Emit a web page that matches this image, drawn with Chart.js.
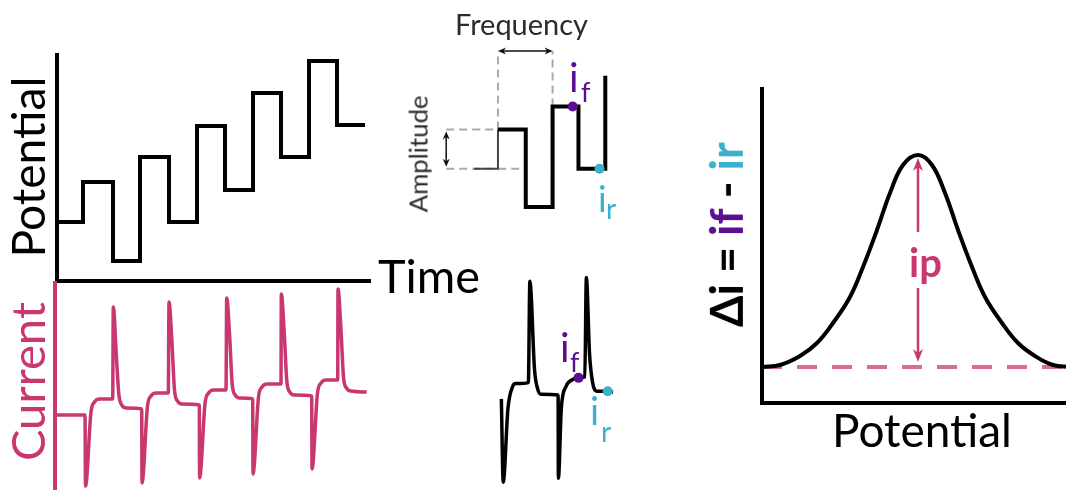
<!DOCTYPE html>
<html><head><meta charset="utf-8">
<script src="https://cdn.jsdelivr.net/npm/chart.js@4.4.1/dist/chart.umd.min.js"></script>
<style>
html,body{margin:0;padding:0;background:#fff;width:1066px;height:490px;overflow:hidden;position:relative;}
canvas{position:absolute;}
.lbl{position:absolute;white-space:nowrap;line-height:1;font-family:Lato,"Open Sans",sans-serif;transform-origin:50% 50%;}
</style></head><body>
<script>
// ================= DATA =================
// Left top: square-wave staircase potential vs time
const potTime  = [0, 26, 56, 83, 112, 140, 168, 196, 224, 252, 280, 308];
const potValue = [59, 99, 20, 124, 59, 155, 91, 188, 124, 220, 156, 156];

// Left bottom: current response vs time
const curTime  = [0,28,28.5,34,37.5,42.5,55.7, 56.3,59.3,61.8,64.8,69.3,84.7, 85,90.5,94,99,111.3,
                  112,115,117.5,120.5,125,142.3, 142.6,148.1,151.6,156.6,169, 169.7,172.7,175.2,178.2,182.7,195.7,
                  196,201.5,205,210,224, 224.3,227.3,229.8,232.8,237.3,254.7, 255,260.5,264,269,280.7,
                  281,284,286.5,289.5,294,309.7];
const curValue = [0,0,-71,3,13,16,16, 108,60,21,10,7,6, -68,9,19,22,22,
                  113,72,25,14,11,10, -63,12,22,25,25, 117,78,31,20,17,16,
                  -59,18,28,31,31, 121,81,34,23,20,19, -54,22,32,35,35,
                  126,85,38,27,24,23];

// Middle top: one square-wave period in detail
const waveTime  = [0, 25, 54, 82, 109, 137];
const waveValue = [0, 41, -40, 65, 0, 97];
const ifPoint   = [103, 65];      // forward current sample
const irPoint   = [131, 0];       // reverse current sample
const ampLevels = [41, 0];        // amplitude guide levels
const ampGuideStart = -29;        // where amplitude guides start (time)
const freqTimes = [25, 82];       // one period (frequency guides)
const freqLevel = 123;            // level of the frequency arrow

// Middle bottom: current detail
const detTime  = [0,2,7,12,15.3,28.7,30.3,35.3,38.7,42,60.3,60.6,63.7,68.7,75.3,82,88.7,90.3,93.7,97,102,113,118.7];
const detValue = [0,-87,-10,13,16,17,123,30,10,5,4,-83,-10,13,20,22,23,127,47,17,8,8,7];
const detIf = [82, 22];
const detIr = [113, 8];

// Right: differential current vs potential
const gPot   = [0,18,38,55,71,88,101,115,128,141,156,170,183,196,210,223,240,256,273,291,308];
const gDelta = [0,2,11,24,44,70,100,137,174,202,212,202,174,137,100,70,44,24,11,2,0];
const baseLevel = 0;
const ipPot = 156;
const ipRange = [5, 209];     // arrow from baseline to peak
const ipGap = [79, 135];      // gap in arrow for label

// ================= STYLE =================
const PINK = '#C8376F', PINK_L = '#DA6B9C', PURPLE = '#5B0E91', CYAN = '#3BB0CC', GRAY = '#9DAFB3', INK = '#2B2B2B';

const arrowPlugin = {
  id: 'arrows',
  afterDatasetsDraw(chart, args, opts) {
    const items = (opts && opts.items) || [];
    const ctx = chart.ctx, xs = chart.scales.x, ys = chart.scales.y;
    items.forEach(a => {
      const x1 = xs.getPixelForValue(a.x1), y1 = ys.getPixelForValue(a.y1);
      const x2 = xs.getPixelForValue(a.x2), y2 = ys.getPixelForValue(a.y2);
      const ang = Math.atan2(y2 - y1, x2 - x1);
      const L = a.hl || 8, W = a.hw || 3.5;
      ctx.save();
      ctx.strokeStyle = a.color; ctx.fillStyle = a.color; ctx.lineWidth = a.width || 1.5;
      const sx = a.start ? x1 + Math.cos(ang) * L * 0.6 : x1, sy = a.start ? y1 + Math.sin(ang) * L * 0.6 : y1;
      const ex = a.end ? x2 - Math.cos(ang) * L * 0.6 : x2, ey = a.end ? y2 - Math.sin(ang) * L * 0.6 : y2;
      ctx.beginPath(); ctx.moveTo(sx, sy); ctx.lineTo(ex, ey); ctx.stroke();
      const head = (x, y, an) => {
        ctx.beginPath();
        ctx.moveTo(x, y);
        ctx.lineTo(x - Math.cos(an) * L - Math.sin(an) * W, y - Math.sin(an) * L + Math.cos(an) * W);
        ctx.lineTo(x - Math.cos(an) * L * 0.7, y - Math.sin(an) * L * 0.7);
        ctx.lineTo(x - Math.cos(an) * L + Math.sin(an) * W, y - Math.sin(an) * L - Math.cos(an) * W);
        ctx.closePath(); ctx.fill();
      };
      if (a.end) head(x2, y2, ang);
      if (a.start) head(x1, y1, ang + Math.PI);
      ctx.restore();
    });
  }
};

function pts(xs, ys) { return xs.map((x, i) => ({ x, y: ys[i] })); }
function lineDS(data, color, width, extra) {
  return Object.assign({ data, borderColor: color, backgroundColor: color, borderWidth: width, pointRadius: 0,
    fill: false, clip: false, tension: 0, borderJoinStyle: 'round' }, extra || {});
}
function dotDS(p, color, r) {
  return { data: [{ x: p[0], y: p[1] }], showLine: false, pointRadius: r, pointBackgroundColor: color,
    pointBorderColor: color, pointBorderWidth: 0, clip: false };
}
function scale(min, max, pos, border) {
  return { type: 'linear', min, max, position: pos, display: !!border,
    grid: { display: false, drawTicks: false }, ticks: { display: false },
    border: border ? { display: true, color: border.color, width: border.width } : { display: false } };
}
function makeChart(left, top, w, h, pad, xs, ys, datasets, arrows) {
  const cv = document.createElement('canvas');
  cv.width = w; cv.height = h;
  cv.style.left = left + 'px'; cv.style.top = top + 'px';
  cv.style.width = w + 'px'; cv.style.height = h + 'px';
  document.body.appendChild(cv);
  return new Chart(cv, {
    type: 'line',
    data: { datasets },
    options: {
      responsive: false, animation: false, devicePixelRatio: 1, events: [],
      layout: { padding: pad },
      plugins: { legend: { display: false }, tooltip: { enabled: false }, arrows: { items: arrows || [] } },
      scales: { x: xs, y: ys }
    },
    plugins: [arrowPlugin]
  });
}

// ---- Left top: potential staircase ----
makeChart(47, 45, 333, 246, 10,
  scale(0, 313, 'bottom', { color: '#000', width: 4 }),
  scale(0, 226, 'left', { color: '#000', width: 4 }),
  [lineDS(pts(potTime, potValue), '#000', 4, { stepped: 'before', borderJoinStyle: 'miter' })]);

// ---- Left bottom: current ----
makeChart(45, 273, 335, 227, 10,
  scale(-2, 313, 'bottom', null),
  scale(-75, 132, 'left', { color: PINK, width: 4 }),
  [lineDS(pts(curTime, curValue), PINK, 3.5, { cubicInterpolationMode: 'monotone' })]);

// ---- Middle top: square-wave detail ----
makeChart(400, 0, 240, 235, 0,
  scale(-72, 168, 'bottom', null),
  scale(-64, 171, 'left', null),
  [
    dotDS(ifPoint, PURPLE, 5),
    dotDS(irPoint, CYAN, 5),
    lineDS(pts(waveTime, waveValue), '#000', 4, { stepped: 'before', borderJoinStyle: 'miter',
      segment: { borderWidth: c => c.p0DataIndex === 0 ? 2 : undefined, borderColor: c => c.p0DataIndex === 0 ? '#444' : undefined } }),
    lineDS(pts([ampGuideStart, freqTimes[0]], [ampLevels[0], ampLevels[0]]), GRAY, 2, { borderDash: [8, 5] }),
    lineDS(pts([ampGuideStart, waveTime[2] - 1], [ampLevels[1], ampLevels[1]]), GRAY, 2, { borderDash: [8, 5] }),
    lineDS(pts([freqTimes[0], freqTimes[0] + 0.001], [ampLevels[0], freqLevel]), GRAY, 2, { borderDash: [8, 5] }),
    lineDS(pts([freqTimes[1], freqTimes[1] + 0.001], [waveValue[3], freqLevel]), GRAY, 2, { borderDash: [8, 5] })
  ],
  [
    { x1: freqTimes[0], y1: freqLevel, x2: freqTimes[1], y2: freqLevel, color: '#111', width: 1.5, start: true, end: true, hl: 8, hw: 3.5 },
    { x1: ampGuideStart, y1: ampLevels[0] - 2, x2: ampGuideStart, y2: ampLevels[1] + 2, color: '#111', width: 1.5, start: true, end: true, hl: 8, hw: 3.5 }
  ]);

// ---- Middle bottom: current detail ----
makeChart(470, 260, 170, 230, 0,
  scale(-28, 142, 'bottom', null),
  scale(-90, 140, 'left', null),
  [
    dotDS(detIf, PURPLE, 5),
    dotDS(detIr, CYAN, 5),
    lineDS(pts(detTime, detValue), '#000', 3.5, { cubicInterpolationMode: 'monotone' })
  ]);

// ---- Right: differential current ----
makeChart(752, 79, 328, 334, 10,
  scale(0, 308, 'bottom', { color: '#000', width: 4 }),
  scale(-36, 278, 'left', { color: '#000', width: 4 }),
  [
    lineDS(pts(gPot, gDelta), '#000', 4, { tension: 0.4 }),
    lineDS(pts([gPot[0], gPot[gPot.length - 1]], [baseLevel, baseLevel]), PINK_L, 4, { borderDash: [20, 15] })
  ],
  [
    { x1: ipPot, y1: ipGap[1], x2: ipPot, y2: ipRange[1], color: PINK, width: 2.5, end: true, hl: 13, hw: 5 },
    { x1: ipPot, y1: ipGap[0], x2: ipPot, y2: ipRange[0], color: PINK, width: 2.5, end: true, hl: 13, hw: 5 }
  ]);

// ================= TEXT =================
function label(L) {
  const d = document.createElement('div');
  d.className = 'lbl';
  d.innerHTML = L.html;
  d.style.color = L.color || '#000';
  d.style.fontWeight = L.weight || 400;
  let size = L.size || 40;
  d.style.fontSize = size + 'px';
  const m = document.createElement('span');
  m.style.cssText = 'display:inline-block;width:0;height:0;vertical-align:baseline;';
  d.appendChild(m);
  document.body.appendChild(d);
  if (L.fit) {
    const w0 = d.getBoundingClientRect().width;
    size = size * L.fit / w0;
    d.style.fontSize = size + 'px';
  }
  const W = d.getBoundingClientRect().width, H = d.getBoundingClientRect().height;
  const b = m.offsetTop;
  if (L.rot) {
    d.style.left = (L.bx - (b - H / 2) - W / 2) + 'px';
    d.style.top = (L.cy - H / 2) + 'px';
    d.style.transform = 'rotate(-90deg)';
  } else {
    const left = L.left !== undefined ? L.left : L.cx - W / 2;
    d.style.left = left + 'px';
    d.style.top = (L.by - b) + 'px';
  }
}

label({ html: 'Potential', bx: 45, cy: 167, fit: 181, rot: true });
label({ html: 'Current', bx: 45, cy: 382, fit: 159, rot: true, color: PINK });
label({ html: 'Time', cx: 429, by: 293, fit: 102 });
label({ html: 'Frequency', cx: 521.5, by: 35, fit: 133, color: INK });
label({ html: 'Amplitude', bx: 428, cy: 153.5, fit: 117, rot: true, color: INK });
label({ html: 'Potential', cx: 922, by: 447, fit: 180 });
label({ html: 'Δi = <span style="color:' + PURPLE + '">if</span> - <span style="color:' + CYAN + '">ir</span>', bx: 743, cy: 234.5, fit: 185, rot: true, weight: 700 });
label({ html: 'ip', left: 909, by: 277, size: 40, weight: 700, color: PINK });

label({ html: 'i', left: 569, by: 92, size: 40, color: PURPLE });
label({ html: 'f', left: 581, by: 102, size: 27, color: PURPLE });
label({ html: 'i', left: 598, by: 212, size: 36, color: CYAN });
label({ html: 'r', left: 606, by: 219, size: 28, color: CYAN });
label({ html: 'i', left: 560, by: 362, size: 40, color: PURPLE });
label({ html: 'f', left: 570, by: 372, size: 27, color: PURPLE });
label({ html: 'i', left: 590, by: 425, size: 38, color: CYAN });
label({ html: 'r', left: 601, by: 442, size: 28, color: CYAN });
</script>
</body></html>
